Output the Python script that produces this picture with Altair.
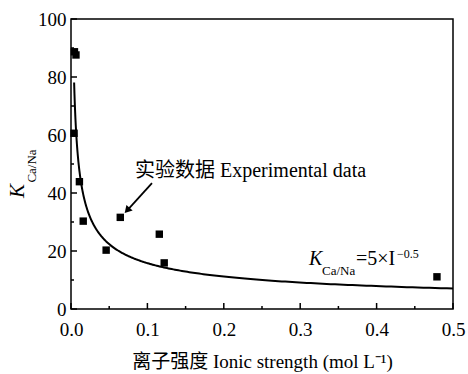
import altair as alt
import numpy as np
import pandas as pd

# Experimental data
ionic_strength = [0.0045, 0.0065, 0.004, 0.011, 0.016, 0.046, 0.0645, 0.1156, 0.122, 0.479]
k_ca_na = [88.7, 87.6, 60.6, 43.9, 30.3, 20.3, 31.6, 25.8, 15.9, 11.1]

# Fitted model K = a * I^b
fit_a = 5.0
fit_b = -0.5
fit_i_min = 0.0041
fit_i_max = 0.5

# Axis ticks
x_major = [0.0, 0.1, 0.2, 0.3, 0.4, 0.5]
x_minor = [0.05, 0.15, 0.25, 0.35, 0.45]
y_major = [0, 20, 40, 60, 80, 100]
y_minor = [10, 30, 50, 70, 90]

# Annotations
exp_label = "实验数据 Experimental data"
exp_label_pos = [0.0838, 45.5]
arrow_start = [0.106, 43.4]
arrow_end = [0.0745, 34.3]
formula_pos = [0.3115, 15.2]

FONT = "Liberation Serif, Times New Roman, Noto Sans CJK SC"
W, H = 382, 290

pts = pd.DataFrame({"I": ionic_strength, "K": k_ca_na})
i_fit = np.geomspace(fit_i_min, fit_i_max, 300)
fit = pd.DataFrame({"I": i_fit, "K": fit_a * i_fit ** fit_b})

xscale = alt.Scale(domain=[0, 0.5], nice=False, zero=False, padding=0)
yscale = alt.Scale(domain=[0, 100], nice=False, zero=False, padding=0)

xaxis = alt.Axis(values=x_major, format=".1f", tickSize=0, domain=False, grid=False,
                 labelFlush=False, labelOverlap=False,
                 labelFont=FONT, labelFontSize=19, labelColor="black", labelPadding=11,
                 title="离子强度 Ionic strength (mol L⁻¹)", titleFont=FONT,
                 titleFontSize=19, titleFontWeight="normal", titleColor="black",
                 titlePadding=13)
yaxis = alt.Axis(values=y_major, tickSize=0, domain=False, grid=False,
                 labelFlush=False, labelOverlap=False,
                 labelFont=FONT, labelFontSize=19, labelColor="black", labelPadding=5,
                 title=None)

def X(field):
    return alt.X(field, scale=xscale, axis=xaxis)
def Y(field):
    return alt.Y(field, scale=yscale, axis=yaxis)

curve = alt.Chart(fit).mark_line(color="black", strokeWidth=2).encode(x=X("I:Q"), y=Y("K:Q"))
points = alt.Chart(pts).mark_square(color="black", size=55, opacity=1).encode(x=X("I:Q"), y=Y("K:Q"))

# inward ticks
xt_major = alt.Chart(pd.DataFrame({"I": x_major})).mark_rule(color="black", strokeWidth=1.5).encode(
    x=X("I:Q"), y=alt.value(H), y2=alt.value(H - 6))
xt_minor = alt.Chart(pd.DataFrame({"I": x_minor})).mark_rule(color="black", strokeWidth=1.5).encode(
    x=X("I:Q"), y=alt.value(H), y2=alt.value(H - 3))
yt_major = alt.Chart(pd.DataFrame({"K": y_major})).mark_rule(color="black", strokeWidth=1.5).encode(
    y=Y("K:Q"), x=alt.value(0), x2=alt.value(6))
yt_minor = alt.Chart(pd.DataFrame({"K": y_minor})).mark_rule(color="black", strokeWidth=1.5).encode(
    y=Y("K:Q"), x=alt.value(0), x2=alt.value(3))

# annotation: experimental data
ann = pd.DataFrame({"I": [exp_label_pos[0]], "K": [exp_label_pos[1]], "t": [exp_label]})
ann_text = alt.Chart(ann).mark_text(font=FONT, fontSize=20, align="left", baseline="alphabetic",
                                    color="black").encode(x=X("I:Q"), y=Y("K:Q"), text="t:N")
arr = pd.DataFrame({"I": [arrow_start[0]], "K": [arrow_start[1]],
                    "I2": [arrow_end[0]], "K2": [arrow_end[1]]})
arrow_line = alt.Chart(arr).mark_rule(color="black", strokeWidth=1.8).encode(
    x=X("I:Q"), y=Y("K:Q"), x2="I2:Q", y2="K2:Q")
arrow_head = alt.Chart(arr).mark_point(shape="triangle", filled=True, color="black", size=70,
                                       angle=222, opacity=1).encode(x=X("I2:Q"), y=Y("K2:Q"))

# formula annotation
fp = pd.DataFrame({"I": [formula_pos[0]], "K": [formula_pos[1]]})
def ftext(txt, size, dx, dy, italic=False):
    return alt.Chart(fp).mark_text(text=txt, font=FONT, fontSize=size, align="left",
                                   baseline="alphabetic", color="black", dx=dx, dy=dy,
                                   fontStyle="italic" if italic else "normal").encode(
        x=X("I:Q"), y=Y("K:Q"))
formula = (ftext("K", 20, 0, 0, True) + ftext("Ca/Na", 13, 13, 10) +
           ftext("=5×I", 20, 47, 0) + ftext("−0.5", 12, 88, -7))

# y-axis title (rotated, with subscript)
ytitle_k = alt.Chart(fp).mark_text(text="K", font=FONT, fontSize=21, fontStyle="italic", angle=270,
                                   align="center", baseline="middle", color="black").encode(
    x=alt.value(-53), y=alt.value(172))
ytitle_sub = alt.Chart(fp).mark_text(text="Ca/Na", font=FONT, fontSize=13, angle=270,
                                     align="center", baseline="middle", color="black").encode(
    x=alt.value(-39), y=alt.value(147))

chart = alt.layer(curve, points, xt_major, xt_minor, yt_major, yt_minor,
                  arrow_line, arrow_head, ann_text, formula, ytitle_k, ytitle_sub).properties(
    width=W, height=H,
    autosize=alt.AutoSizeParams(type="none"),
    padding={"left": 71, "top": 19, "right": 15, "bottom": 65},
    background="white",
).configure_view(stroke="black", strokeWidth=1.5)

chart.save("out.html", embed_options={"renderer": "svg", "actions": False})
